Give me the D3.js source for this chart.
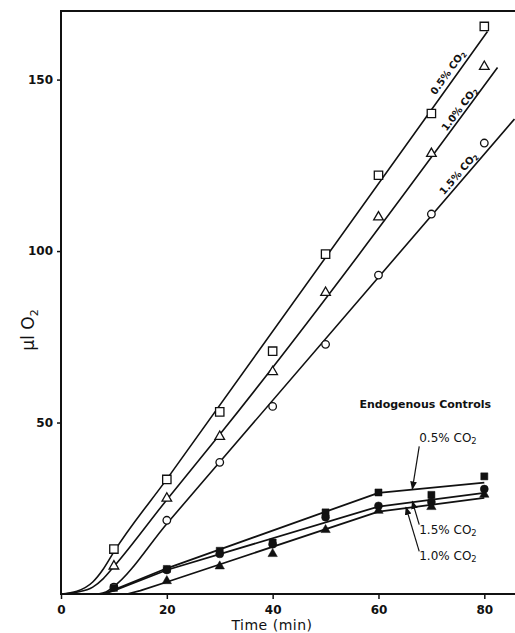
<!DOCTYPE html>
<html>
<head>
<meta charset="utf-8">
<script src="https://cdn.jsdelivr.net/npm/d3@7"></script>
<style>
  body { margin: 0; background: #fff; }
  svg { display: block; }
  text { font-family: "DejaVu Sans", sans-serif; fill: #111; }
</style>
</head>
<body>
<div id="chart"></div>
<script>
// measured points (µl O2 at each time)
const times = [10, 20, 30, 40, 50, 60, 70, 80];
const open05 = [13.1, 33.4, 53.1, 70.8, 99.1, 122.1, 140.1, 165.5];
const open10 = [8.1, 27.9, 45.9, 64.8, 87.9, 109.9, 128.4, 153.8];
const open15 = [2.0, 21.5, 38.4, 54.7, 72.8, 93.0, 110.8, 131.5];
const endo05 = [1.8, 7.3, 12.6, 15.0, 23.8, 29.6, 28.9, 34.3];
const endo15 = [null, 7.0, 11.7, 14.5, 22.4, 25.7, 26.8, 30.6];
const endo10 = [null, 3.8, 8.1, 11.7, 18.7, 24.3, 25.4, 29.0];

// fitted curves drawn by hand on the original: [time, value]
const fit05 = [[0, 0], [3, 0.8], [6, 3.5], [8, 7.3], [10, 12.3], [20, 33.5], [80.6, 164]];
const fit10 = [[0, 0], [3, 0.5], [6, 2], [8, 4.5], [10, 8], [20, 27.5], [30, 46.5], [82.5, 153.5]];
const fit15 = [[7, 0], [8.5, 0.6], [10, 2.2], [20, 20.5], [30, 38.5], [85.7, 138.5]];
const fitEndo05 = [[8, 0], [10, 1.2], [20, 7.5], [60, 29.5], [80, 32.5]];
const fitEndo15 = [[8, 0], [10, 1.0], [20, 7], [60, 25.5], [80, 29.5]];
const fitEndo10 = [[12.5, 0], [15, 1], [20, 3.5], [60, 24], [80, 28]];

const timeTicks = [0, 20, 40, 60, 80];
const o2Ticks = [50, 100, 150];

var width = 515, height = 633;

var svg = d3.select("#chart").append("svg")
    .attr("width", width)
    .attr("height", height);

var x = d3.scaleLinear().domain([0, 85.8]).range([61, 515]);
var y = d3.scaleLinear().domain([0, 170]).range([594, 11]);

// frame: left axis, bottom axis, top line
svg.append("path")
    .attr("d", "M" + x(85.8) + "," + y(170) + "H" + x(0) + "V" + y(0) + "H" + x(85.8))
    .attr("fill", "none")
    .attr("stroke", "#111")
    .attr("stroke-width", 2);

// x ticks
var xAxis = svg.append("g")
    .attr("transform", "translate(0," + y(0) + ")")
    .call(d3.axisBottom(x).tickValues(timeTicks).tickSize(5).tickPadding(6).tickFormat(d3.format("d")));
xAxis.select(".domain").remove();
xAxis.selectAll("line").attr("stroke", "#111").attr("stroke-width", 1.5);
xAxis.selectAll("text")
    .style("font-family", "DejaVu Sans")
    .style("font-size", "12px")
    .style("font-weight", "bold")
    .attr("fill", "#111");

// y ticks
var yAxis = svg.append("g")
    .attr("transform", "translate(" + x(0) + ",0)")
    .call(d3.axisLeft(y).tickValues(o2Ticks).tickSize(4).tickPadding(4).tickFormat(d3.format("d")));
yAxis.select(".domain").remove();
yAxis.selectAll("line").attr("stroke", "#111").attr("stroke-width", 1.5);
yAxis.selectAll("text")
    .style("font-family", "DejaVu Sans")
    .style("font-size", "12px")
    .style("font-weight", "bold")
    .attr("fill", "#111");

// axis titles
svg.append("text")
    .attr("x", 272)
    .attr("y", 630)
    .attr("text-anchor", "middle")
    .style("font-size", "14px")
    .style("letter-spacing", "0.5px")
    .text("Time (min)");

var yTitle = svg.append("text")
    .attr("transform", "translate(34,330) rotate(-90)")
    .attr("text-anchor", "middle")
    .style("font-size", "17px");
yTitle.append("tspan").text("\u03bcl O");
yTitle.append("tspan").attr("dy", 4).style("font-size", "11px").text("2");

// fitted curves
var curve = d3.line()
    .x(d => x(d[0]))
    .y(d => y(d[1]))
    .curve(d3.curveMonotoneX);
var broken = d3.line()
    .x(d => x(d[0]))
    .y(d => y(d[1]));

[fit05, fit10, fit15].forEach(function (f) {
    svg.append("path")
        .attr("d", curve(f))
        .attr("fill", "none")
        .attr("stroke", "#111")
        .attr("stroke-width", 1.6);
});
[fitEndo05, fitEndo15, fitEndo10].forEach(function (f) {
    svg.append("path")
        .attr("d", broken(f))
        .attr("fill", "none")
        .attr("stroke", "#111")
        .attr("stroke-width", 1.8)
        .attr("stroke-linejoin", "round");
});

// markers
function drawPoints(values, type, size, filled) {
    var sym = d3.symbol().type(type).size(size);
    svg.append("g").selectAll("path")
        .data(times.map((t, i) => [t, values[i]]).filter(d => d[1] != null))
        .enter().append("path")
        .attr("d", sym())
        .attr("transform", d => "translate(" + x(d[0]) + "," + y(d[1]) + ")")
        .attr("fill", filled ? "#111" : "#fff")
        .attr("stroke", "#111")
        .attr("stroke-width", filled ? 0.5 : 1.3);
}
drawPoints(open05, d3.symbolSquare, 70, false);
drawPoints(open10, d3.symbolTriangle, 40, false);
drawPoints(open15, d3.symbolCircle, 45, false);
drawPoints(endo05, d3.symbolSquare, 50, true);
drawPoints(endo15, d3.symbolCircle, 50, true);
drawPoints(endo10, d3.symbolTriangle, 38, true);

// rotated labels sitting on the upper lines
function angleOf(f) {
    var a = f[f.length - 2], b = f[f.length - 1];
    return Math.atan2(y(b[1]) - y(a[1]), x(b[0]) - x(a[0])) * 180 / Math.PI;
}
function valueAt(f, t) {
    for (var i = 1; i < f.length; i++) {
        if (t <= f[i][0]) {
            var a = f[i - 1], b = f[i];
            return a[1] + (b[1] - a[1]) * (t - a[0]) / (b[0] - a[0]);
        }
    }
    return f[f.length - 1][1];
}
function co2Label(g, pct, size) {
    g.append("tspan").text(pct + "% CO");
    g.append("tspan").attr("dy", 2).style("font-size", (size * 0.7) + "px").text("2");
}
// [curve, pct, time on curve, baseline gap]
[[fit05, "0.5", 74.4, -5], [fit10, "1.0", 76.1, -2], [fit15, "1.5", 76.1, -3.5]].forEach(function (l) {
    var t = svg.append("text")
        .attr("transform", "translate(" + x(l[2]) + "," + y(valueAt(l[0], l[2])) + ") rotate(" + angleOf(l[0]) + ")")
        .attr("text-anchor", "middle")
        .attr("dy", l[3])
        .style("font-size", "10px")
        .style("font-weight", "bold");
    co2Label(t, l[1], 10);
});

// endogenous controls labels
svg.append("text")
    .attr("x", x(56.4))
    .attr("y", y(54.1))
    .style("font-size", "11px")
    .style("font-weight", "bold")
    .text("Endogenous Controls");

svg.append("defs").append("marker")
    .attr("id", "arrow")
    .attr("viewBox", "0 0 10 10")
    .attr("refX", 9).attr("refY", 5)
    .attr("markerWidth", 7).attr("markerHeight", 7)
    .attr("orient", "auto")
    .append("path")
    .attr("d", "M0,1L10,5L0,9Z")
    .attr("fill", "#111");

// [label time, label value, arrow tip time, tip value, pct]
const endoLabels = [[67.7, 44.2, 66.4, 30.6, "0.5"], [67.7, 17.6, 66.4, 27.0, "1.5"], [67.7, 9.8, 65.2, 25.3, "1.0"]];
endoLabels.forEach(function (l) {
    var top = l[1] > l[3];
    svg.append("line")
        .attr("x1", x(l[0]))
        .attr("y1", top ? y(l[1]) + 4 : y(l[1]) - 9)
        .attr("x2", x(l[2]))
        .attr("y2", y(l[3]))
        .attr("stroke", "#111")
        .attr("stroke-width", 1.2)
        .attr("marker-end", "url(#arrow)");
    var t = svg.append("text")
        .attr("x", x(l[0]))
        .attr("y", y(l[1]))
        .style("font-size", "12px");
    co2Label(t, l[4], 12);
});
</script>
</body>
</html>
